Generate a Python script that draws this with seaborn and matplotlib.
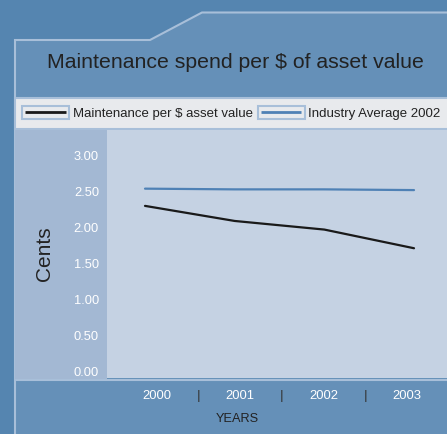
"""Maintenance spend per $ of asset value, 2000-2003."""

import matplotlib

matplotlib.use("Agg")

import matplotlib.pyplot as plt
import matplotlib.transforms as mtransforms
import pandas as pd
import seaborn as sns
from matplotlib.legend_handler import HandlerBase
from matplotlib.lines import Line2D
from matplotlib.patches import Polygon, Rectangle

years = ["2000", "2001", "2002", "2003"]
maintenance = [2.30, 2.09, 1.97, 1.71]
industry_avg = [2.54, 2.53, 2.53, 2.52]
y_ticks = [0.0, 0.5, 1.0, 1.5, 2.0, 2.5, 3.0]

OUTER = "#5585b0"
PANEL = "#6590b8"
BORDER = "#a8bfd9"
STRIP = "#e8eaed"
LEFT_STRIP = "#a3b8d3"
PLOT_BG = "#c5d2e3"
DARK = "#222222"
BLUE_LINE = "#4f81b5"

W, H = 447, 434


class BoxedLineHandler(HandlerBase):
    """Legend key drawn as a framed box with the series line inside."""

    def create_artists(self, legend, orig_handle, xdescent, ydescent,
                       width, height, fontsize, trans):
        box_h = 9.4
        y_mid = height / 2 - ydescent
        box = Rectangle((-xdescent, y_mid - box_h / 2), width, box_h,
                        facecolor=STRIP, edgecolor=BORDER, lw=1.5, transform=trans)
        inset = 2.3
        line = Line2D([-xdescent + inset, -xdescent + width - inset], [y_mid, y_mid],
                      color=orig_handle.get_color(), lw=2.0,
                      solid_capstyle="butt", transform=trans)
        return [box, line]


sns.set_style("white")
plt.rcParams["font.family"] = ["Liberation Sans", "DejaVu Sans"]

fig = plt.figure(figsize=(W / 100, H / 100), dpi=100, facecolor=OUTER)
# pixel coordinates measured from the top-left corner
px = mtransforms.Affine2D().scale(1 / W, -1 / H).translate(0, 1) + fig.transFigure

panel = Polygon([(15, 445), (15, 40), (150, 40), (202, 12.5), (460, 12.5), (460, 445)],
                closed=True, facecolor=PANEL, edgecolor=BORDER, lw=1.5,
                transform=px, zorder=-3)
fig.add_artist(panel)
fig.add_artist(Rectangle((15, 98), 440, 30.5, facecolor=STRIP, edgecolor=BORDER,
                         lw=1.5, transform=px, zorder=-2))
fig.add_artist(Rectangle((15, 129.5), 92, 249, facecolor=LEFT_STRIP, edgecolor="none",
                         transform=px, zorder=-2))
fig.add_artist(Line2D([15, 447], [379.5, 379.5], color=BORDER, lw=1.5,
                      transform=px, zorder=-1))

fig.text(235.5, 62, "Maintenance spend per $ of asset value", transform=px,
         ha="center", va="center", fontsize=15.3, color=DARK)

ax = fig.add_axes([107 / W, 1 - 378 / H, 340 / W, 248 / H])
ax.set_facecolor(PLOT_BG)

df = pd.DataFrame({"pos": range(len(years)), "maintenance": maintenance,
                   "industry": industry_avg})
sns.lineplot(data=df, x="pos", y="maintenance", ax=ax, color="#1a1a1a", lw=1.6,
             label="Maintenance per $ asset value", legend=False)
sns.lineplot(data=df, x="pos", y="industry", ax=ax, color=BLUE_LINE, lw=1.6,
             label="Industry Average 2002", legend=False)

ax.set_xlim(-0.424, 3.368)
ax.set_ylim(-0.0975, 3.357)
ax.set_xticks([])
ax.set_xlabel("")
ax.set_yticks(y_ticks, labels=[f"{v:.2f}" for v in y_ticks])
ax.tick_params(axis="y", length=0, pad=5.8, labelcolor="white", labelsize=9.3)
ax.set_ylabel("Cents", fontsize=15, color=DARK)
ax.yaxis.set_label_coords(-0.156, 0.5)
for spine in ax.spines.values():
    spine.set_visible(False)

# category axis for the year labels and separators
ax2 = ax.twiny()
ax2.set_xlim(-0.6, 3.48)
ax2.xaxis.set_ticks_position("bottom")
ax2.xaxis.set_label_position("bottom")
ax2.set_xticks(range(len(years)), labels=years)
ax2.set_xticks([i + 0.5 for i in range(len(years) - 1)],
               labels=["|"] * (len(years) - 1), minor=True)
ax2.tick_params(axis="x", which="major", length=0, pad=8.6,
                labelcolor="white", labelsize=9.4)
ax2.tick_params(axis="x", which="minor", length=0, pad=8.6,
                labelcolor="#333333", labelsize=9.6)
ax2.set_xlabel("YEARS", fontsize=9.2, color=DARK)
ax2.xaxis.set_label_coords(0.382, -0.141)
for spine in ax2.spines.values():
    spine.set_visible(False)

handles = ax.get_lines()[:2]
fig.legend(handles=handles, labels=[h.get_label() for h in handles],
           handler_map={Line2D: BoxedLineHandler()},
           loc="center left", bbox_to_anchor=(22, 114), bbox_transform=px,
           ncol=2, frameon=False, fontsize=9.5, labelcolor=DARK,
           handlelength=3.56, handletextpad=0.3, columnspacing=0.35,
           borderpad=0, borderaxespad=0)

fig.savefig("out.png", dpi=100, facecolor=OUTER)
